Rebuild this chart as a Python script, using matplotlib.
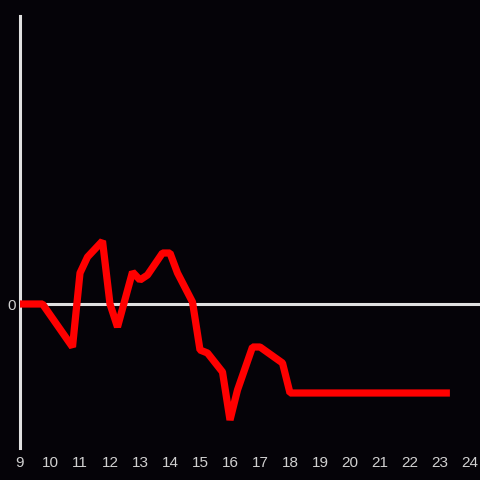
import matplotlib
matplotlib.use("Agg")
import matplotlib.pyplot as plt

hours = [9.0, 9.75, 10.75, 11.0, 11.25, 11.75, 12.0, 12.25, 12.75, 13.0, 13.25,
         13.75, 14.0, 14.25, 14.75, 15.0, 15.25, 15.75, 16.0, 16.25, 16.75, 17.0,
         17.75, 18.0, 23.33]
values = [0, 0, -43, 31, 47, 63, 0, -23, 32, 24, 29,
          51, 51, 31, 2, -46, -49, -68, -116, -86, -43, -43,
          -59, -89, -89]
xticks = list(range(9, 25))

plt.rcParams["font.family"] = ["Liberation Sans", "DejaVu Sans"]

bg = "#050308"
fig = plt.figure(figsize=(4.8, 4.8), dpi=100, facecolor=bg)
ax = fig.add_axes([20/480, 32/480, 460/480, 432/480], facecolor=bg)

ax.axhline(0, color="#e0e0e0", lw=2.2, zorder=1)
ax.plot(hours, values, color="#ff0000", lw=5.2, zorder=3, solid_joinstyle="bevel",
        solid_capstyle="butt", clip_on=False)

ax.set_xlim(9, 9 + 460/30)
ax.set_ylim(-144, 288)
ax.set_xticks(xticks)
ax.set_xticklabels([str(t) for t in xticks])
ax.set_yticks([0])
ax.set_yticklabels(["0"])
ax.tick_params(axis="both", length=0, colors="#d0d0d0", labelsize=11)
ax.tick_params(axis="x", pad=6)
ax.tick_params(axis="y", pad=3)

for s in ["top", "right", "bottom"]:
    ax.spines[s].set_visible(False)
ax.spines["left"].set_color("#e0e0e0")
ax.spines["left"].set_linewidth(2.2)
ax.spines["left"].set_zorder(2)

fig.savefig("out.png", dpi=100, facecolor=bg)
